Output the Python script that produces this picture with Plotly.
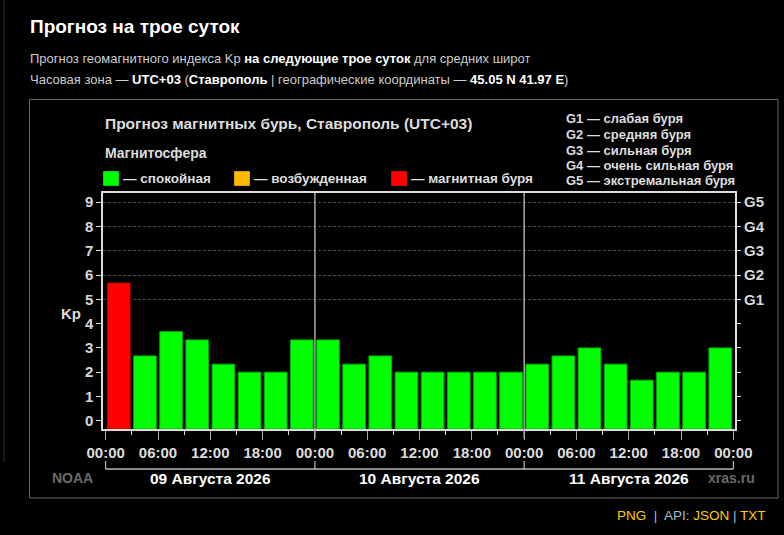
import plotly.graph_objects as go

# Kp forecast, 3-hour intervals (start times)
times = [
    "2026-08-09 00:00", "2026-08-09 03:00", "2026-08-09 06:00", "2026-08-09 09:00",
    "2026-08-09 12:00", "2026-08-09 15:00", "2026-08-09 18:00", "2026-08-09 21:00",
    "2026-08-10 00:00", "2026-08-10 03:00", "2026-08-10 06:00", "2026-08-10 09:00",
    "2026-08-10 12:00", "2026-08-10 15:00", "2026-08-10 18:00", "2026-08-10 21:00",
    "2026-08-11 00:00", "2026-08-11 03:00", "2026-08-11 06:00", "2026-08-11 09:00",
    "2026-08-11 12:00", "2026-08-11 15:00", "2026-08-11 18:00", "2026-08-11 21:00",
]
kp = [5.67, 2.67, 3.67, 3.33, 2.33, 2.00, 2.00, 3.33,
      3.33, 2.33, 2.67, 2.00, 2.00, 2.00, 2.00, 2.00,
      2.33, 2.67, 3.00, 2.33, 1.67, 2.00, 2.00, 3.00]

days = ["2026-08-09", "2026-08-10", "2026-08-11", "2026-08-12"]
day_labels = ["09 Августа 2026", "10 Августа 2026", "11 Августа 2026"]
day_mid = ["2026-08-09 12:00", "2026-08-10 12:00", "2026-08-11 12:00"]

g_vals = [5, 6, 7, 8, 9]
g_labels = ["G1", "G2", "G3", "G4", "G5"]
g_desc = ["G1 — слабая буря", "G2 — средняя буря", "G3 — сильная буря",
          "G4 — очень сильная буря", "G5 — экстремальная буря"]

legend_names = ["— спокойная", "— возбужденная", "— магнитная буря"]
legend_colors = ["#00ff00", "#ffbb00", "#ff0000"]

FONT = "Liberation Sans, Arial, Helvetica, sans-serif"
W, H = 784, 535
L, R, T, B = 103, 49, 193, 106
Y_MIN, Y_MAX = -0.34, 9.38
HOUR = 3600 * 1000


def px(x):
    return (x - L) / (W - L - R)


def py(y):
    return (H - B - y) / (H - T - B)


def bar_color(v):
    if v >= 5:
        return "#ff0000"
    if v >= 4:
        return "#ffbb00"
    return "#00ff00"


def bar_edge(v):
    if v >= 5:
        return "#c00000"
    if v >= 4:
        return "#c08800"
    return "#00b000"


fig = go.Figure()

fig.add_trace(go.Bar(
    x=times,
    y=[v - Y_MIN for v in kp],
    base=Y_MIN,
    offset=0.2 * HOUR,
    width=2.6 * HOUR,
    marker=dict(color=[bar_color(v) for v in kp],
                line=dict(color=[bar_edge(v) for v in kp], width=1)),
    showlegend=False,
    hoverinfo="skip",
))
# dummy trace so the right axis is drawn
fig.add_trace(go.Scatter(x=[times[0]], y=[None], yaxis="y2", showlegend=False,
                         hoverinfo="skip"))

axis_col = "#dddddd"
fig.update_layout(
    width=W, height=H,
    margin=dict(l=L, r=R, t=T, b=B),
    paper_bgcolor="#000000",
    plot_bgcolor="#000000",
    font=dict(family=FONT, color="#dddddd"),
    xaxis=dict(
        type="date",
        range=["2026-08-08 23:41:24", "2026-08-12 00:11:24"],
        tick0="2026-08-09", dtick=6 * HOUR, tickformat="%H:%M",
        ticks="outside", ticklen=9, tickcolor="#aaaaaa", tickwidth=1,
        minor=dict(dtick=3 * HOUR, ticks="outside", ticklen=4, tickcolor=axis_col),
        tickfont=dict(size=15, weight="bold", color="#dddddd"),
        showgrid=False, zeroline=False,
        showline=True, linecolor=axis_col, linewidth=1.5, mirror=True,
    ),
    yaxis=dict(
        range=[Y_MIN, Y_MAX], tickvals=list(range(10)),
        ticks="outside", ticklen=5, tickcolor=axis_col,
        tickfont=dict(size=15, weight="bold", color="#d8d8d8"),
        showgrid=False, zeroline=False,
        showline=True, linecolor=axis_col, linewidth=1.5, mirror=True,
    ),
    yaxis2=dict(
        overlaying="y", side="right",
        range=[Y_MIN, Y_MAX], tickvals=g_vals, ticktext=g_labels,
        ticks="outside", ticklen=5, tickcolor=axis_col,
        minor=dict(dtick=1, tick0=0, ticks="outside", ticklen=5, tickcolor=axis_col),
        tickfont=dict(size=15, weight="bold", color="#d8d8d8"),
        showgrid=True, gridcolor="#4a4a4a", griddash="3px,2px", gridwidth=1,
        zeroline=False, showline=False,
    ),
)

shapes = []
# day separators
for d in days[1:3]:
    shapes.append(dict(type="line", xref="x", yref="paper", x0=d, x1=d, y0=-0.04, y1=1,
                       line=dict(color="#aaaaaa", width=1.5)))
# day bracket under the time labels
shapes.append(dict(type="line", xref="x", yref="paper", x0=days[0], x1=days[-1],
                   y0=py(469), y1=py(469), line=dict(color="#888888", width=2)))
for d in days:
    shapes.append(dict(type="line", xref="x", yref="paper", x0=d, x1=d,
                       y0=py(461), y1=py(469), line=dict(color="#dddddd", width=1)))
# outer chart frame
shapes.append(dict(type="rect", xref="paper", yref="paper",
                   x0=px(29.5), x1=px(778), y0=py(498), y1=py(99.5),
                   line=dict(color="#666666", width=1)))
# page edge line
shapes.append(dict(type="line", xref="paper", yref="paper",
                   x0=px(4), x1=px(4), y0=py(462), y1=py(0),
                   line=dict(color="#333333", width=1)))
# legend swatches
for x0, c in zip([103, 234, 391], legend_colors):
    shapes.append(dict(type="rect", xref="paper", yref="paper",
                       x0=px(x0), x1=px(x0 + 16), y0=py(186), y1=py(171),
                       fillcolor=c, line=dict(color="rgba(0,0,0,0.3)", width=1)))
fig.update_layout(shapes=shapes)


def note(text, x, y, size=14, color="#dddddd", xanchor="left", xref="paper"):
    fig.add_annotation(text=text, x=x if xref != "paper" else px(x), y=py(y),
                       xref=xref, yref="paper", xanchor=xanchor, yanchor="middle",
                       showarrow=False, font=dict(family=FONT, size=size, color=color))


# page header
note("<b>Прогноз на трое суток</b>", 28, 26, size=19, color="#ffffff")
note("Прогноз геомагнитного индекса Kp <b><span style='color:#ffffff'>на следующие трое суток</span></b> для средних широт",
     28, 58, size=13, color="#cccccc")
note("Часовая зона — <b><span style='color:#ffffff'>UTC+03</span></b> (<b><span style='color:#ffffff'>Ставрополь</span></b>"
     " | географические координаты — <b><span style='color:#ffffff'>45.05 N 41.97 E</span></b>)",
     28, 80, size=13, color="#cccccc")

# chart header
note("<b>Прогноз магнитных бурь, Ставрополь (UTC+03)</b>", 103, 124, size=15.5)
note("<b>Магнитосфера</b>", 103, 153, size=14)
for x0, name in zip([121, 252, 409], legend_names):
    note("<b>" + name + "</b>", x0, 178, size=13.5)
for i, t in enumerate(g_desc):
    note("<b>" + t + "</b>", 564, 119 + 15.5 * i, size=13)

note("<b>Kp</b>", 71, 313, size=15, xanchor="center")

# day labels
for xm, lab in zip(day_mid, day_labels):
    note("<b>" + lab + "</b>", xm, 478, size=15.5, color="#ffffff", xanchor="center", xref="x")
note("<b>NOAA</b>", 72, 478, size=14, color="#6b6b6b", xanchor="center")
note("<b>xras.ru</b>", 731, 478, size=14, color="#6b6b6b", xanchor="center")

# links
note("<span style='color:#ffcc00'>PNG</span>  |  <span style='color:#aabbcc'>API:</span> "
     "<span style='color:#ffcc00'>JSON</span> | <span style='color:#ffcc00'>TXT</span>",
     768, 515, size=13.5, color="#aabbcc", xanchor="right")

fig.write_html("out.html", config={"displayModeBar": False},
               post_script="document.body.style.margin='0';"
                           "document.body.style.background='#000';")
